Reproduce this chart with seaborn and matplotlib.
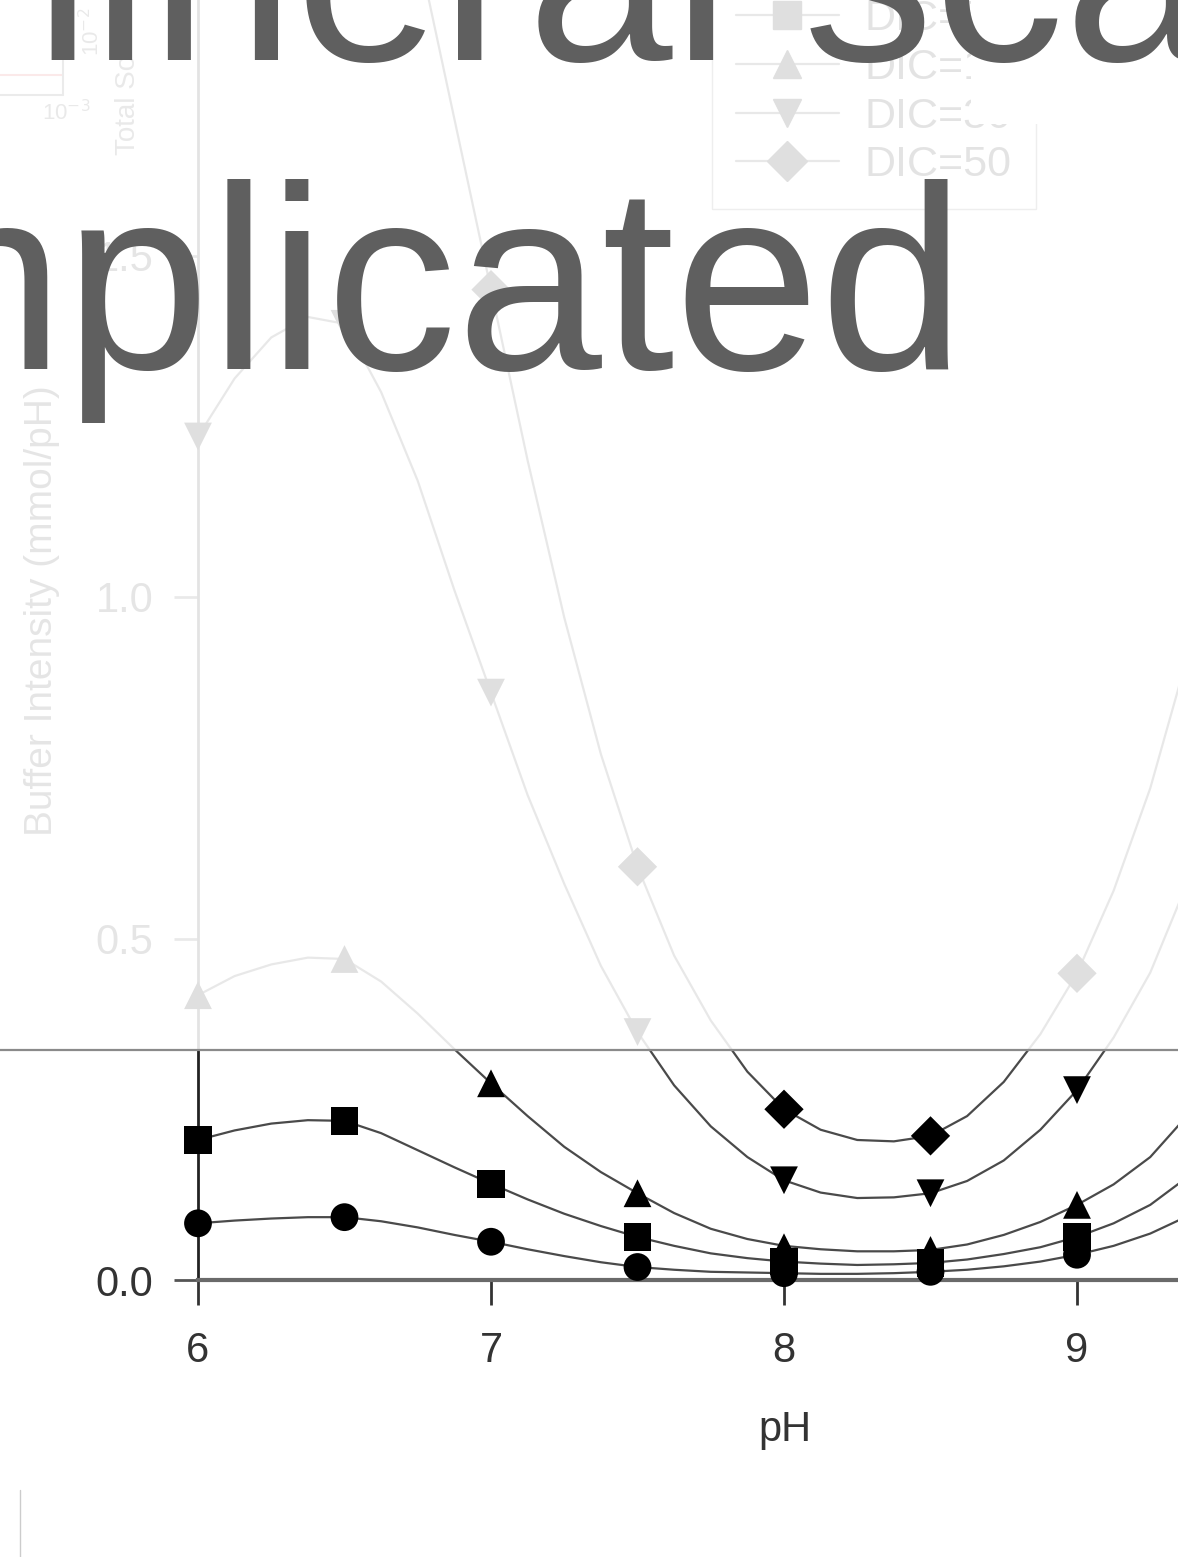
import numpy as np
import pandas as pd
import seaborn as sns
import matplotlib.pyplot as plt
from matplotlib.lines import Line2D
from matplotlib.patches import Rectangle

W, H = 1178, 1557

# marker positions (pH steps of 0.5), buffer intensity in mmol/pH
ph_marks = [6.0, 6.5, 7.0, 7.5, 8.0, 8.5, 9.0, 9.5]
dic_labels = ["DIC=2", "DIC=5", "DIC=10", "DIC=30", "DIC=50"]
dic2_marks = [0.083, 0.092, 0.056, 0.019, 0.010, 0.012, 0.037, 0.13]
dic5_marks = [0.205, 0.233, 0.141, 0.063, 0.027, 0.025, 0.063, 0.20]
dic10_marks = [0.417, 0.470, 0.288, 0.127, 0.048, 0.044, 0.110, 0.32]
dic30_marks = [1.235, 1.400, 0.860, 0.363, 0.146, 0.127, 0.278, 0.75]
dic50_marks = [2.05, 2.35, 1.45, 0.605, 0.250, 0.211, 0.449, 1.15]

# smooth curves every 0.125 pH
ph_curve = [6.0, 6.125, 6.25, 6.375, 6.5, 6.625, 6.75, 6.875, 7.0, 7.125, 7.25, 7.375,
            7.5, 7.625, 7.75, 7.875, 8.0, 8.125, 8.25, 8.375, 8.5, 8.625, 8.75, 8.875,
            9.0, 9.125, 9.25, 9.375, 9.5]
dic2_curve = [0.083, 0.087, 0.090, 0.092, 0.092, 0.086, 0.077, 0.066, 0.056, 0.045, 0.035, 0.026,
              0.019, 0.015, 0.012, 0.011, 0.010, 0.009, 0.009, 0.010, 0.012, 0.015, 0.020, 0.027,
              0.037, 0.050, 0.068, 0.093, 0.13]
dic5_curve = [0.205, 0.219, 0.229, 0.234, 0.233, 0.215, 0.190, 0.165, 0.141, 0.118, 0.097, 0.079,
              0.063, 0.050, 0.039, 0.032, 0.027, 0.024, 0.022, 0.023, 0.025, 0.030, 0.038, 0.048,
              0.063, 0.083, 0.110, 0.150, 0.20]
dic10_curve = [0.417, 0.445, 0.462, 0.472, 0.470, 0.437, 0.390, 0.338, 0.288, 0.240, 0.195, 0.158,
               0.127, 0.098, 0.075, 0.060, 0.050, 0.045, 0.042, 0.042, 0.044, 0.052, 0.066, 0.085,
               0.110, 0.140, 0.180, 0.240, 0.32]
dic30_curve = [1.235, 1.32, 1.38, 1.41, 1.40, 1.30, 1.17, 1.01, 0.86, 0.71, 0.58, 0.46,
               0.363, 0.285, 0.225, 0.180, 0.146, 0.128, 0.120, 0.121, 0.127, 0.145, 0.175, 0.220,
               0.278, 0.355, 0.45, 0.58, 0.75]
dic50_curve = [2.05, 2.20, 2.30, 2.36, 2.35, 2.17, 1.95, 1.70, 1.45, 1.20, 0.97, 0.77,
               0.605, 0.475, 0.38, 0.305, 0.250, 0.220, 0.205, 0.203, 0.211, 0.240, 0.29, 0.36,
               0.449, 0.57, 0.72, 0.91, 1.15]

marker_of = {"DIC=2": "o", "DIC=5": "s", "DIC=10": "^", "DIC=30": "v", "DIC=50": "D"}

marks = pd.DataFrame({
    "pH": ph_marks * 5,
    "value": dic2_marks + dic5_marks + dic10_marks + dic30_marks + dic50_marks,
    "DIC": [lab for lab in dic_labels for _ in ph_marks],
})
curves = pd.DataFrame({
    "pH": ph_curve * 5,
    "value": dic2_curve + dic5_curve + dic10_curve + dic30_curve + dic50_curve,
    "DIC": [lab for lab in dic_labels for _ in ph_curve],
})

sns.set_theme(style="white")
plt.rcParams["font.family"] = ["Liberation Sans", "DejaVu Sans"]


def fx(px):
    return px / W


def fy(py):
    return 1 - py / H


fig = plt.figure(figsize=(W / 100, H / 100), dpi=100)
ax = fig.add_axes([0, 0, 1, 1])
ax.set_facecolor("white")

sns.lineplot(data=curves, x="pH", y="value", hue="DIC", palette=["#4a4a4a"] * 5,
             linewidth=1.6, legend=False, ax=ax, zorder=2)
sns.scatterplot(data=marks, x="pH", y="value", style="DIC", markers=marker_of,
                color="black", s=400, linewidth=0, legend=False, ax=ax, zorder=3)

ax.set_xlim(6 - 198 / 293, 6 + (W - 198) / 293)
ax.set_ylim(-(H - 1280) / 683, 1280 / 683)

for side in ["top", "right"]:
    ax.spines[side].set_visible(False)
ax.spines["left"].set_position(("data", 6))
ax.spines["left"].set_bounds(0, 1280 / 683)
ax.spines["left"].set_color("#222222")
ax.spines["left"].set_linewidth(2)
ax.spines["bottom"].set_position(("data", 0))
ax.spines["bottom"].set_bounds(6, 6 + (W - 198) / 293)
ax.spines["bottom"].set_color("#6a6a6a")
ax.spines["bottom"].set_linewidth(3)

ax.set_xticks([6, 7, 8, 9])
ax.set_xticklabels(["6", "7", "8", "9"])
ax.set_yticks([0, 0.5, 1.0, 1.5])
ax.set_yticklabels(["0.0", "0.5", "1.0", "1.5"])
ax.tick_params(axis="x", direction="out", length=18, width=2, color="#333333",
               labelsize=30, labelcolor="#333333", pad=19, bottom=True)
ax.tick_params(axis="y", direction="out", length=17, width=2, color="#555555",
               labelsize=30, labelcolor="#333333", pad=15, left=True)

ax.set_xlabel("pH", fontsize=30, color="#333333")
ax.xaxis.set_label_coords(785 / W, fy(1410))
ax.set_ylabel("Buffer Intensity (mmol/pH)", fontsize=28, color="#333333")
ax.yaxis.set_label_coords(fx(60), fy(611))

handles = [Line2D([], [], color="#4a4a4a", lw=1.6, marker=marker_of[lab], markersize=20,
                  markerfacecolor="black", markeredgecolor="black") for lab in dic_labels]
ax.legend(handles, dic_labels, loc="lower left", bbox_to_anchor=(fx(712), fy(209)),
          bbox_transform=fig.transFigure, fontsize=31, frameon=True, fancybox=False,
          edgecolor="#777777", framealpha=1, borderpad=0.55, handlelength=2.4,
          handletextpad=0.6, labelspacing=0.2, borderaxespad=0)

# bits of another figure behind the fade
fig.add_artist(Line2D([0, fx(63)], [fy(75), fy(75)], color="#e05050", lw=1.5, zorder=1))
fig.add_artist(Line2D([fx(63), fx(63)], [fy(0), fy(95)], color="#666666", lw=1.5, zorder=1))
fig.add_artist(Line2D([0, fx(63)], [fy(95), fy(95)], color="#666666", lw=1.5, zorder=1))
fig.text(fx(66), fy(113), r"10$^{-3}$", fontsize=16, color="#555555", ha="center",
         va="center", zorder=1)
fig.text(fx(92), fy(32), r"10$^{-2}$", fontsize=16, color="#555555", ha="center",
         va="center", rotation=90, zorder=1)
fig.text(fx(128), fy(105), "Total So", fontsize=20, color="#555555", rotation=90,
         ha="center", va="center", zorder=1)

# slide fade over the upper part
fig.add_artist(Rectangle((0, fy(1050)), 1, 1 - fy(1050), transform=fig.transFigure,
                         facecolor="white", edgecolor="none", alpha=0.88, zorder=5))
fig.add_artist(Rectangle((fx(971), fy(124)), 1 - fx(971), 124 / H, transform=fig.transFigure,
                         facecolor="white", edgecolor="none", zorder=6))
fig.add_artist(Line2D([0, 1], [fy(1050), fy(1050)], color="#8a8a8a", lw=1.6, zorder=6))
fig.add_artist(Line2D([fx(20), fx(20)], [fy(1490), 0], color="#cccccc", lw=1, zorder=6))

fig.text(fx(-126), fy(60), "mineral scale", fontsize=188, color="#5f5f5f",
         ha="left", va="baseline", zorder=7)
fig.text(fx(966), fy(369), "complicated", fontsize=188, color="#5f5f5f",
         ha="right", va="baseline", zorder=7)

fig.savefig("out.png", dpi=100)
